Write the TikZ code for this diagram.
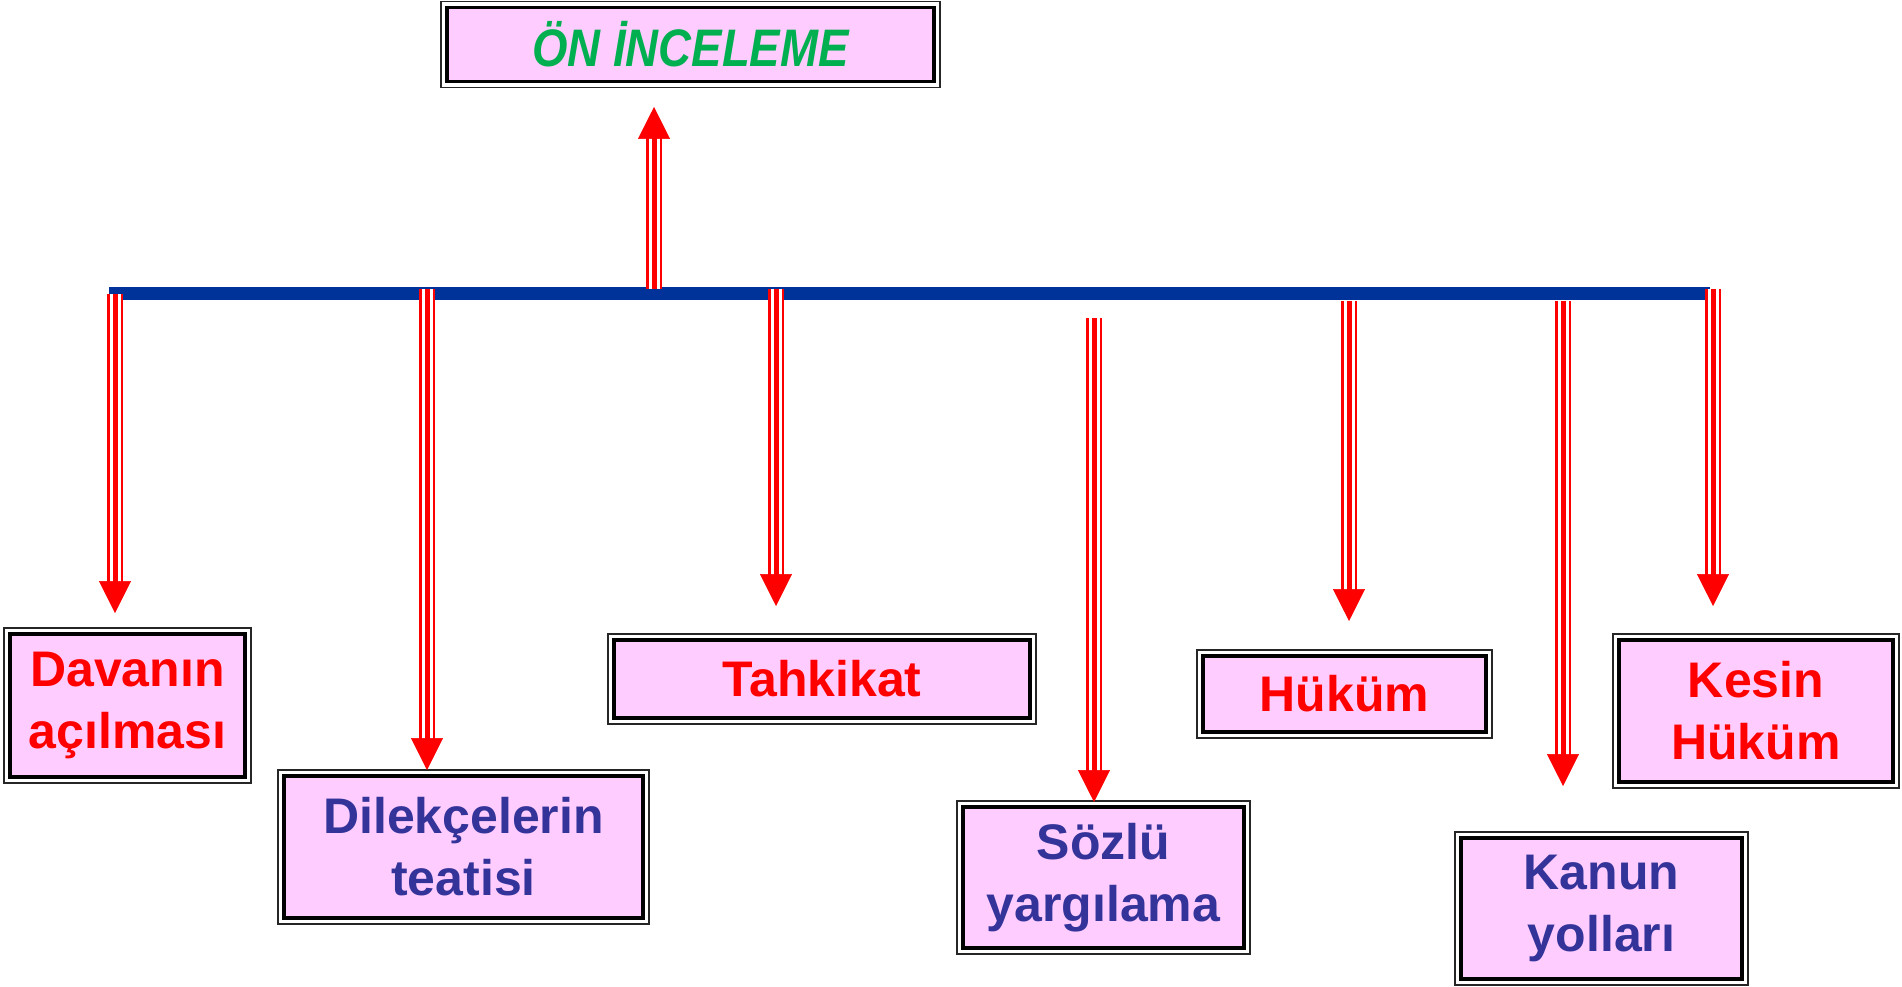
\documentclass[tikz,border=0pt]{standalone}
\usepackage{fontspec}
\setmainfont{Liberation Sans}
\usetikzlibrary{arrows.meta,calc}
\definecolor{boxpink}{RGB}{255,204,255}
\definecolor{barblue}{RGB}{0,51,153}
\definecolor{txtred}{RGB}{255,0,0}
\definecolor{txtblue}{RGB}{51,51,153}
\definecolor{txtgreen}{RGB}{0,176,80}
\tikzset{
  outerframe/.style={draw=black!85, line width=1.6pt, fill=white, inner sep=0pt, outer sep=0pt},
  innerbox/.style={draw=black, line width=3.6pt, fill=boxpink, inner sep=0pt, outer sep=0pt,
     align=center, font=\fontsize{50}{62}\selectfont\bfseries},
  shaft/.style={draw=red, line width=16pt,
     postaction={draw=white, line width=11pt},
     postaction={draw=red, line width=5pt}},
  arrowhead/.style={draw=red, line width=0.5pt, -{Triangle[length=32pt,width=32pt]}},
}
\newcommand\framedbox[6]{%
  \node[outerframe, minimum width=#3pt, minimum height=#4pt] (#1o) at (#2) {};
  \node[innerbox, minimum width=#3pt-12pt, minimum height=#4pt-12pt, text=#5] (#1) at (#2) {#6};}
\newcommand\triarrow[2]{%
  \draw[shaft] (#1) -- ($(#2)!30pt!(#1)$);
  \draw[arrowhead] ($(#2)!34pt!(#1)$) -- (#2);}
\begin{document}
\begin{tikzpicture}[x=1pt,y=-1pt]
\useasboundingbox[fill=white] (0,0) rectangle (1902,987);
% horizontal bar
\fill[barblue] (109,287) rectangle (1710,300);
% boxes
\node[outerframe, minimum width=499pt, minimum height=86pt] (topo) at (690.5,44.5) {};
\node[innerbox, minimum width=487pt, minimum height=74pt, text=txtgreen, font=\fontsize{48}{56}\selectfont\bfseries\itshape] (top) at (690.5,44.5) {\scalebox{0.95}[1.1]{ÖN İNCELEME}};
\framedbox{dav}{127.5,705.5}{247}{155}{txtred}{Davanın\\açılması}
\framedbox{dil}{463.5,847}{371}{154}{txtblue}{Dilekçelerin\\teatisi}
\framedbox{tah}{822,679}{428}{90}{txtred}{Tahkikat}
\framedbox{soz}{1103.5,877.5}{293}{153}{txtblue}{Sözlü\\yargılama}
\framedbox{huk}{1344.5,694}{295}{88}{txtred}{Hüküm}
\framedbox{kan}{1601.5,908.5}{293}{153}{txtblue}{Kanun\\yolları}
\framedbox{kes}{1756,711}{286}{154}{txtred}{Kesin\\Hüküm}
% arrow start coordinates
\coordinate (s1) at (115,294);
\coordinate (s2) at (427,289);
\coordinate (s3) at (654,289);
\coordinate (s4) at (776,289);
\coordinate (s5) at (1094,318);
\coordinate (s6) at (1349,301);
\coordinate (s7) at (1563,301);
\coordinate (s8) at (1713,289);
% arrow end coordinates
\coordinate (e1) at (115,613);
\coordinate (e2) at (427,770);
\coordinate (e3) at (654,107);
\coordinate (e4) at (776,606);
\coordinate (e5) at (1094,802);
\coordinate (e6) at (1349,621);
\coordinate (e7) at (1563,786);
\coordinate (e8) at (1713,606);
\foreach \i in {1,...,8} {\triarrow{s\i}{e\i}}
\end{tikzpicture}
\end{document}
